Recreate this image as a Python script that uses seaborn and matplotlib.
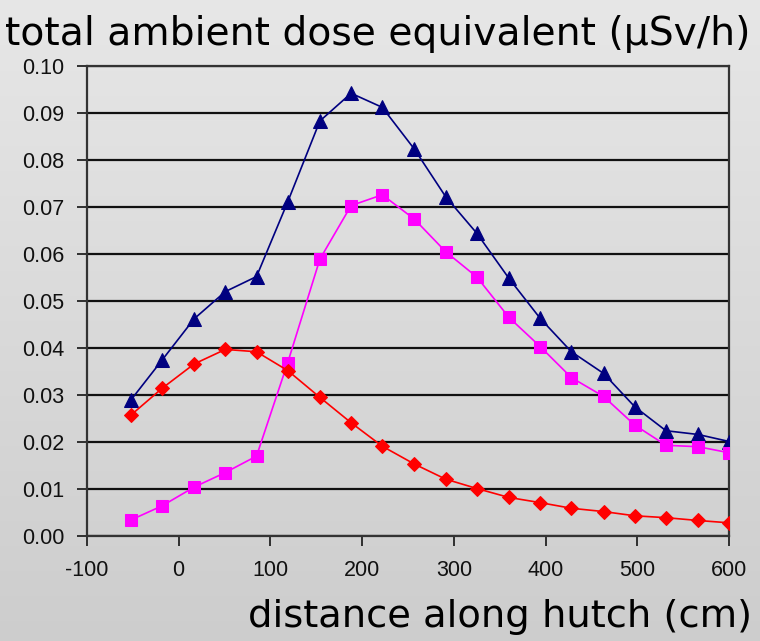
import numpy as np
import pandas as pd
import matplotlib
matplotlib.use("Agg")
import matplotlib.pyplot as plt
import seaborn as sns

# ---- data ----
distance_cm = [-52, -18, 17, 51, 85, 119, 154, 188, 222, 257,
               291, 325, 360, 394, 428, 463, 497, 531, 566, 600]
total_dose = [0.0289, 0.0374, 0.0462, 0.0520, 0.0552, 0.0711, 0.0883, 0.0942, 0.0912, 0.0823,
              0.0722, 0.0644, 0.0548, 0.0463, 0.0392, 0.0346, 0.0275, 0.0224, 0.0216, 0.0201]
component_a = [0.0034, 0.0064, 0.0104, 0.0135, 0.0170, 0.0369, 0.0589, 0.0703, 0.0726, 0.0674,
               0.0605, 0.0551, 0.0465, 0.0403, 0.0337, 0.0297, 0.0236, 0.0193, 0.0190, 0.0177]
component_b = [0.0257, 0.0314, 0.0366, 0.0397, 0.0392, 0.0352, 0.0295, 0.0241, 0.0191, 0.0153,
               0.0121, 0.0101, 0.0082, 0.0071, 0.0059, 0.0052, 0.0043, 0.0039, 0.0033, 0.0028]
x_ticks = [-100, 0, 100, 200, 300, 400, 500, 600]
y_ticks = [0.00, 0.01, 0.02, 0.03, 0.04, 0.05, 0.06, 0.07, 0.08, 0.09, 0.10]
title_text = "total ambient dose equivalent (\u03bcSv/h)"
xlabel_text = "distance along hutch (cm)"

series = [
    ("total", total_dose, "#000080", "^", 10),
    ("a", component_a, "#ff00ff", "s", 8),
    ("b", component_b, "#ff0000", "D", 7),
]

sns.set_theme(style="ticks")
plt.rcParams["font.family"] = ["Liberation Sans", "DejaVu Sans"]

fig = plt.figure(figsize=(7.6, 6.41), dpi=100)

# gradient background
bg = fig.add_axes([0, 0, 1, 1], zorder=-10)
grad = np.linspace(0.905, 0.805, 256).reshape(-1, 1)
bg.imshow(np.repeat(grad[:, :, None], 3, axis=2), aspect="auto", extent=[0, 1, 0, 1])
bg.axis("off")

ax = fig.add_axes([86.7 / 760, 1 - 536 / 641, (729.3 - 86.7) / 760, (536 - 66) / 641])
ax.set_facecolor("none")

for name, vals, col, mk, ms in series:
    df = pd.DataFrame({"x": distance_cm, "y": vals})
    sns.lineplot(data=df, x="x", y="y", ax=ax, color=col, lw=1.2,
                 marker=mk, markersize=ms, markeredgecolor=col,
                 markerfacecolor=col, zorder=3, estimator=None, sort=False)

ax.set_xlim(-100, 600)
ax.set_ylim(0, 0.10)
ax.set_xticks(x_ticks)
ax.set_yticks(y_ticks)
ax.set_xticklabels([str(v) for v in x_ticks])
ax.set_yticklabels([f"{v:.2f}" for v in y_ticks])
ax.set_xlabel("")
ax.set_ylabel("")
ax.yaxis.grid(True, color="#111111", lw=1.6)
ax.xaxis.grid(False)
ax.set_axisbelow(True)
for s in ax.spines.values():
    s.set_color("#333333")
    s.set_linewidth(1.6)
ax.tick_params(axis="both", direction="out", length=7, width=1.3,
               color="#222222", labelsize=15.5, labelcolor="#111111")
ax.tick_params(axis="y", pad=9)
ax.tick_params(axis="x", pad=10)

fig.text(0.006, 0.93, title_text, fontsize=28.3, family=["DejaVu Sans"],
         ha="left", va="baseline", color="black")
fig.text(0.99, 0.022, xlabel_text, fontsize=27.7, family=["DejaVu Sans"],
         ha="right", va="baseline", color="black")

fig.savefig("out.png", dpi=100)
